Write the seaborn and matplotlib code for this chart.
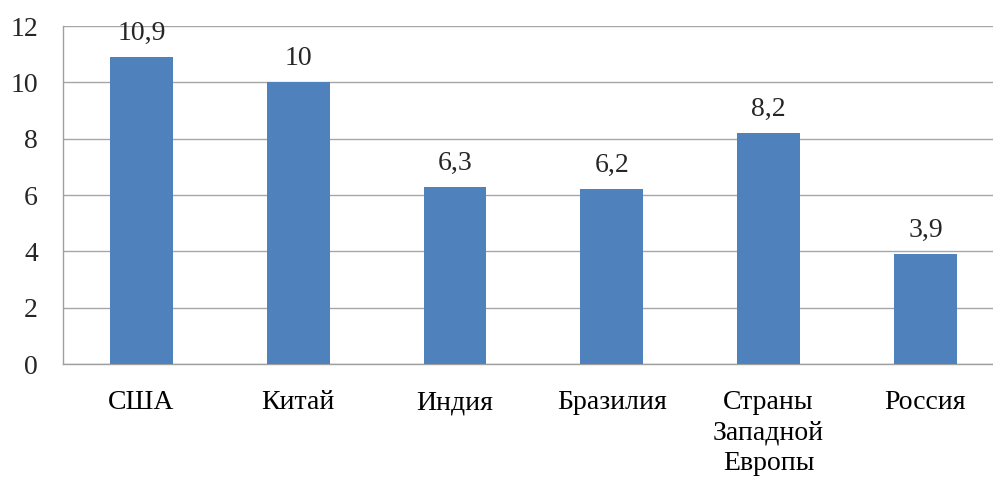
import pandas as pd
import matplotlib.pyplot as plt
import seaborn as sns
from matplotlib.ticker import FixedLocator

countries = ['США', 'Китай', 'Индия', 'Бразилия', 'Страны\nЗападной\nЕвропы', 'Россия']
values = [10.9, 10, 6.3, 6.2, 8.2, 3.9]
value_labels = ['10,9', '10', '6,3', '6,2', '8,2', '3,9']

sns.set_style("white")
plt.rcParams['font.family'] = ['Liberation Serif', 'DejaVu Serif']

df = pd.DataFrame({'Страна': countries, 'Значение': values})

fig = plt.figure(figsize=(9.93, 4.79), dpi=100)
ax = fig.add_axes([0.0634, 0.240, 0.9476, 0.7056])

sns.barplot(data=df, x='Страна', y='Значение', color='#4f81bd', width=0.4,
            saturation=1, linewidth=0, ax=ax, zorder=3)

ax.set_ylim(0, 12)
ax.set_xlim(-0.5, len(countries) - 0.5)
ax.set_yticks(range(0, 13, 2))
ax.yaxis.grid(True, color='#a6a6a6', linewidth=1, zorder=0)
ax.set_axisbelow(True)

for s in ['top', 'right']:
    ax.spines[s].set_visible(False)
for s in ['left', 'bottom']:
    ax.spines[s].set_color('#a0a0a0')
    ax.spines[s].set_linewidth(1)

ax.set_xlabel('')
ax.set_ylabel('')
ax.tick_params(axis='x', which='major', length=0, labelsize=20, pad=19, colors='black')
ax.xaxis.set_minor_locator(FixedLocator([i - 0.5 for i in range(len(countries) + 1)]))
ax.tick_params(axis='x', which='minor', length=8, color='#a0a0a0', width=1, direction='out')
ax.tick_params(axis='y', length=8, color='#a0a0a0', width=1, labelsize=20, pad=10)
for lbl in ax.get_xticklabels():
    lbl.set_linespacing(1.28)
    lbl.set_verticalalignment('top')

for i, (v, t) in enumerate(zip(values, value_labels)):
    ax.annotate(t, (i, v), xytext=(0, 8), textcoords='offset points',
                ha='center', va='bottom', fontsize=20, zorder=5)

fig.savefig('out.png', dpi=100)
